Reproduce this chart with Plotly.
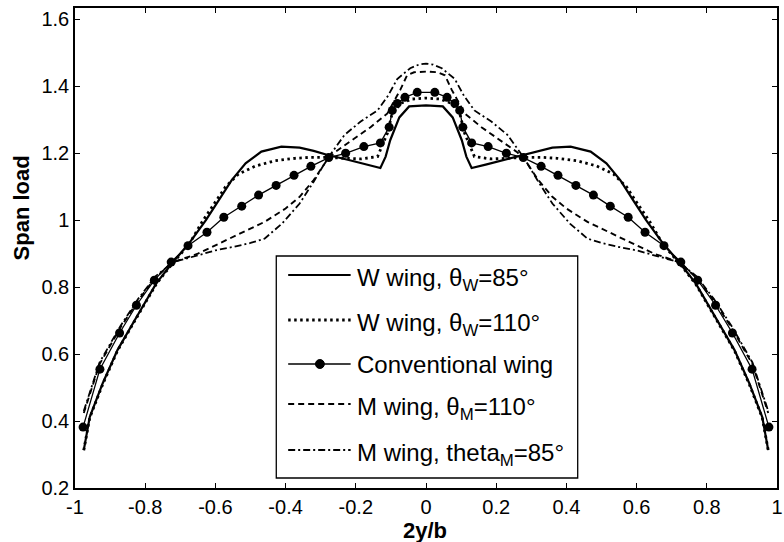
import plotly.graph_objects as go

# ---------------- data ----------------
w85_x = [-0.975, -0.958, -0.921, -0.879, -0.825, -0.768, -0.723, -0.675, -0.627, -0.59, -0.554, -0.514,
         -0.469, -0.412, -0.36, -0.32, -0.28, -0.22, -0.17, -0.13, -0.115, -0.102, -0.076, -0.048, 0.0,
         0.048, 0.076, 0.102, 0.115, 0.13, 0.17, 0.22, 0.28, 0.32, 0.36, 0.412, 0.469, 0.514, 0.554,
         0.59, 0.627, 0.675, 0.723, 0.768, 0.825, 0.879, 0.921, 0.958, 0.975]
w85_y = [0.313, 0.412, 0.513, 0.612, 0.71, 0.812, 0.872, 0.931, 1.0, 1.06, 1.119, 1.17,
         1.205, 1.22, 1.217, 1.207, 1.195, 1.18, 1.166, 1.156, 1.19, 1.239, 1.307, 1.34, 1.343,
         1.34, 1.307, 1.239, 1.19, 1.156, 1.166, 1.18, 1.195, 1.207, 1.217, 1.22, 1.205, 1.17, 1.119,
         1.06, 1.0, 0.931, 0.872, 0.812, 0.71, 0.612, 0.513, 0.412, 0.313]

w110_x = [-0.975, -0.958, -0.921, -0.879, -0.825, -0.768, -0.723, -0.675, -0.638, -0.599, -0.571, -0.534,
          -0.486, -0.429, -0.373, -0.328, -0.28, -0.232, -0.186, -0.138, -0.11, -0.096, -0.07, -0.04, 0.0,
          0.04, 0.07, 0.096, 0.11, 0.138, 0.186, 0.232, 0.28, 0.328, 0.373, 0.429, 0.486, 0.534, 0.571,
          0.599, 0.638, 0.675, 0.723, 0.768, 0.825, 0.879, 0.921, 0.958, 0.975]
w110_y = [0.313, 0.41, 0.51, 0.61, 0.708, 0.81, 0.87, 0.928, 0.995, 1.055, 1.1, 1.138,
          1.162, 1.178, 1.185, 1.188, 1.188, 1.185, 1.183, 1.19, 1.26, 1.32, 1.35, 1.362, 1.365,
          1.362, 1.35, 1.32, 1.26, 1.19, 1.183, 1.185, 1.188, 1.188, 1.185, 1.178, 1.162, 1.138, 1.1,
          1.055, 0.995, 0.928, 0.87, 0.81, 0.708, 0.61, 0.51, 0.41, 0.313]

conv_x = [-0.977, -0.929, -0.873, -0.825, -0.774, -0.726, -0.678, -0.624, -0.576, -0.525, -0.477, -0.427,
          -0.376, -0.328, -0.277, -0.229, -0.177, -0.13, -0.105, -0.096, -0.082, -0.06, -0.025,
          0.025, 0.06, 0.082, 0.096, 0.105, 0.13, 0.177, 0.229, 0.277, 0.328, 0.376, 0.427, 0.477,
          0.525, 0.576, 0.624, 0.678, 0.726, 0.774, 0.825, 0.873, 0.929, 0.977]
conv_y = [0.382, 0.555, 0.663, 0.746, 0.821, 0.875, 0.924, 0.964, 1.009, 1.042, 1.075, 1.104,
          1.134, 1.161, 1.187, 1.2, 1.22, 1.231, 1.278, 1.328, 1.349, 1.367, 1.382,
          1.382, 1.367, 1.349, 1.328, 1.278, 1.231, 1.22, 1.2, 1.187, 1.161, 1.134, 1.104, 1.075,
          1.042, 1.009, 0.964, 0.924, 0.875, 0.821, 0.746, 0.663, 0.555, 0.382]

m110_x = [-0.975, -0.93, -0.87, -0.82, -0.77, -0.72, -0.65, -0.55, -0.46, -0.40, -0.36, -0.32, -0.28,
          -0.26, -0.203, -0.158, -0.11, -0.09, -0.073, -0.054, -0.034, 0.0,
          0.034, 0.054, 0.073, 0.09, 0.11, 0.158, 0.203, 0.26, 0.28, 0.32, 0.36, 0.40, 0.46, 0.55,
          0.65, 0.72, 0.77, 0.82, 0.87, 0.93, 0.975]
m110_y = [0.424, 0.57, 0.68, 0.76, 0.83, 0.875, 0.90, 0.95, 0.995, 1.035, 1.07, 1.12, 1.183,
          1.203, 1.245, 1.278, 1.319, 1.358, 1.39, 1.433, 1.442, 1.444,
          1.442, 1.433, 1.39, 1.358, 1.319, 1.278, 1.245, 1.203, 1.183, 1.12, 1.07, 1.035, 0.995, 0.95,
          0.90, 0.875, 0.83, 0.76, 0.68, 0.57, 0.424]

m85_x = [-0.975, -0.93, -0.87, -0.82, -0.77, -0.72, -0.65, -0.60, -0.55, -0.50, -0.46, -0.41, -0.36,
         -0.32, -0.28, -0.232, -0.186, -0.138, -0.108, -0.082, -0.045, -0.02, 0.0,
         0.02, 0.045, 0.082, 0.108, 0.138, 0.186, 0.232, 0.28, 0.32, 0.36, 0.41, 0.46, 0.50, 0.55,
         0.60, 0.65, 0.72, 0.77, 0.82, 0.87, 0.93, 0.975]
m85_y = [0.43, 0.575, 0.685, 0.765, 0.833, 0.875, 0.895, 0.91, 0.92, 0.932, 0.945, 0.99, 1.05,
         1.115, 1.185, 1.255, 1.295, 1.328, 1.372, 1.422, 1.454, 1.465, 1.468,
         1.465, 1.454, 1.422, 1.372, 1.328, 1.295, 1.255, 1.185, 1.115, 1.05, 0.99, 0.945, 0.932, 0.92,
         0.91, 0.895, 0.875, 0.833, 0.765, 0.685, 0.575, 0.43]

x_ticks = [-1, -0.8, -0.6, -0.4, -0.2, 0, 0.2, 0.4, 0.6, 0.8, 1]
x_tick_text = ["-1", "-0.8", "-0.6", "-0.4", "-0.2", "0", "0.2", "0.4", "0.6", "0.8", "1"]
y_ticks = [0.2, 0.4, 0.6, 0.8, 1.0, 1.2, 1.4, 1.6]
y_tick_text = ["0.2", "0.4", "0.6", "0.8", "1", "1.2", "1.4", "1.6"]

legend_labels = ["W wing, θ<sub>W</sub>=85°", "W wing, θ<sub>W</sub>=110°", "Conventional wing",
                 "M wing, θ<sub>M</sub>=110°", "M wing, theta<sub>M</sub>=85°"]

# ---------------- styling ----------------
FONT = "Liberation Sans, Arial, sans-serif"
W, H = 784, 542
L, R, T, B = 75, 1, 8, 54
PW, PH = W - L - R, H - T - B

DOT = "2.5px,3.5px"
DASH = "6px,4px"
DASHDOT = "7px,3px,2px,3px"

styles = [
    dict(color="black", width=2.2, dash="solid"),
    dict(color="black", width=2.8, dash=DOT),
    dict(color="black", width=1.3, dash="solid"),
    dict(color="black", width=1.9, dash=DASH),
    dict(color="black", width=1.8, dash=DASHDOT),
]

fig = go.Figure()
series = [(w85_x, w85_y), (w110_x, w110_y), (conv_x, conv_y), (m110_x, m110_y), (m85_x, m85_y)]
for i, (xs, ys) in enumerate(series):
    mode = "lines+markers" if i == 2 else "lines"
    fig.add_trace(go.Scatter(
        x=xs, y=ys, mode=mode, name=legend_labels[i].replace("<sub>", "").replace("</sub>", ""),
        line=dict(**styles[i]),
        marker=dict(symbol="circle", size=9, color="black") if i == 2 else None,
        showlegend=False, hoverinfo="skip"))

def px2paper_x(px):
    return (px - L) / PW

def px2paper_y(py):
    return (H - B - py) / PH

# manual legend box (matlab style)
shapes = [dict(type="rect", xref="paper", yref="paper",
               x0=px2paper_x(278), x1=px2paper_x(582), y0=px2paper_y(478), y1=px2paper_y(256),
               line=dict(color="black", width=1.3), fillcolor="white", layer="above")]
annotations = []
row_py = [275, 320, 364, 404, 450]
for i, py in enumerate(row_py):
    yp = px2paper_y(py)
    shapes.append(dict(type="line", xref="paper", yref="paper",
                       x0=px2paper_x(290), x1=px2paper_x(353), y0=yp, y1=yp,
                       line=dict(color="black", width=styles[i]["width"], dash=styles[i]["dash"]),
                       layer="above"))
    sub = "<sub>" in legend_labels[i]
    annotations.append(dict(xref="paper", yref="paper", x=px2paper_x(357), y=yp,
                            xanchor="left", yanchor="middle", showarrow=False,
                            yshift=(-4 if sub else 0),
                            text=legend_labels[i], font=dict(family=FONT, size=24, color="black")))
# marker in conventional sample
shapes.append(dict(type="circle", xref="paper", yref="paper",
                   x0=px2paper_x(322 - 4.5), x1=px2paper_x(322 + 4.5),
                   y0=px2paper_y(364 + 4.5), y1=px2paper_y(364 - 4.5),
                   fillcolor="black", line=dict(color="black", width=1), layer="above"))

# axis titles as annotations
annotations.append(dict(xref="paper", yref="paper", x=px2paper_x(428), y=px2paper_y(530),
                        xanchor="center", yanchor="middle", showarrow=False,
                        text="<b>2y/b</b>", font=dict(family=FONT, size=22, color="black")))
annotations.append(dict(xref="paper", yref="paper", x=px2paper_x(22), y=px2paper_y(208),
                        xanchor="center", yanchor="middle", showarrow=False, textangle=-90,
                        text="<b>Span load</b>", font=dict(family=FONT, size=22, color="black")))

axis_common = dict(showgrid=False, zeroline=False, showline=True, linecolor="black", linewidth=1.5,
                   mirror="ticks", ticks="inside", ticklen=5, tickwidth=1.3, tickcolor="black",
                   ticklabeloverflow="allow",
                   tickfont=dict(family=FONT, size=20, color="black"))

fig.update_layout(
    width=W, height=H,
    margin=dict(l=L, r=R, t=T, b=B),
    paper_bgcolor="white", plot_bgcolor="white",
    xaxis=dict(range=[-1, 1], tickmode="array", tickvals=x_ticks, ticktext=x_tick_text, **axis_common),
    yaxis=dict(range=[0.2, 1.634], tickmode="array", tickvals=y_ticks, ticktext=y_tick_text, **axis_common),
    shapes=shapes, annotations=annotations, showlegend=False,
    font=dict(family=FONT, color="black"),
)

fig.write_html("out.html", config=dict(displayModeBar=False))
